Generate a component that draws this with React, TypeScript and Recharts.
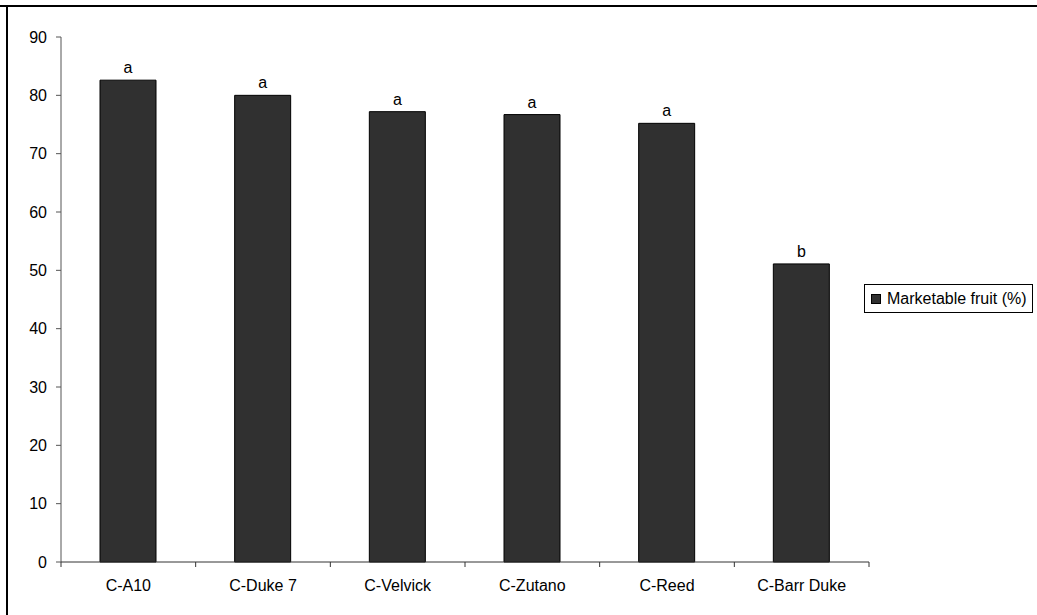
import { BarChart, Bar, XAxis, YAxis, LabelList } from 'recharts';

const cultivars = ['C-A10', 'C-Duke 7', 'C-Velvick', 'C-Zutano', 'C-Reed', 'C-Barr Duke'];
const marketable = [82.6, 80.0, 77.2, 76.7, 75.2, 51.1];
const letters = ['a', 'a', 'a', 'a', 'a', 'b'];
const yTicks = [0, 10, 20, 30, 40, 50, 60, 70, 80, 90];
const seriesName = 'Marketable fruit (%)';

const data = cultivars.map((name, i) => ({ name, value: marketable[i], letter: letters[i] }));

const W = 1037;
const H = 615;
const plotLeft = 61;
const plotRight = 869;
const plotTop = 37;
const plotBottom = 562;
const band = (plotRight - plotLeft) / cultivars.length;
const font = '"Liberation Sans", Arial, sans-serif';

function CategoryTick(props: any) {
  const { x, y, payload, index } = props;
  const last = index === cultivars.length - 1;
  return (
    <g>
      <line x1={x - band / 2} y1={y} x2={x - band / 2} y2={y + 5} stroke="#333" />
      {last && <line x1={x + band / 2} y1={y} x2={x + band / 2} y2={y + 5} stroke="#333" />}
      <text x={x} y={y + 29} textAnchor="middle" fontSize={16} fill="#000" fontFamily={font}>
        {payload.value}
      </text>
    </g>
  );
}

function LegendBox() {
  return (
    <div
      style={{
        position: 'absolute',
        left: 864,
        top: 284,
        width: 167,
        height: 27,
        border: '1px solid #000',
        background: '#fff',
        display: 'flex',
        alignItems: 'center',
        fontFamily: font,
        fontSize: 16,
        color: '#000',
        whiteSpace: 'nowrap',
      }}
    >
      <span
        style={{
          display: 'inline-block',
          width: 8,
          height: 8,
          background: '#303030',
          border: '1px solid #000',
          marginLeft: 6,
          marginRight: 6,
        }}
      />
      {seriesName}
    </div>
  );
}

export default function App() {
  return (
    <div style={{ position: 'absolute', left: 0, top: 0, width: W, height: H, background: '#fff' }}>
      <div style={{ position: 'absolute', left: 0, top: 5, width: W, height: 0, borderTop: '2px solid #000' }} />
      <div style={{ position: 'absolute', left: 6, top: 5, width: 0, height: H - 5, borderLeft: '2px solid #000' }} />
      <BarChart
        width={W}
        height={H}
        data={data}
        margin={{ top: plotTop, right: W - plotRight, bottom: 20, left: 0 }}
        style={{ position: 'absolute', left: 0, top: 0 }}
      >
        <YAxis
          width={plotLeft}
          domain={[0, 90]}
          ticks={yTicks}
          interval={0}
          axisLine={{ stroke: '#555' }}
          tickLine={{ stroke: '#555' }}
          tickSize={5}
          tickMargin={9}
          tick={{ fontSize: 16, fill: '#000', fontFamily: font }}
        />
        <XAxis
          dataKey="name"
          height={H - 20 - plotBottom}
          interval={0}
          axisLine={{ stroke: '#333' }}
          tickLine={false}
          tickSize={0}
          tickMargin={0}
          tick={<CategoryTick />}
        />
        <Bar
          dataKey="value"
          name={seriesName}
          fill="#303030"
          stroke="#000"
          strokeWidth={1}
          barSize={56}
          isAnimationActive={false}
        >
          <LabelList dataKey="letter" position="top" offset={7} fontSize={16} fill="#000" fontFamily={font} />
        </Bar>
      </BarChart>
      <LegendBox />
    </div>
  );
}
